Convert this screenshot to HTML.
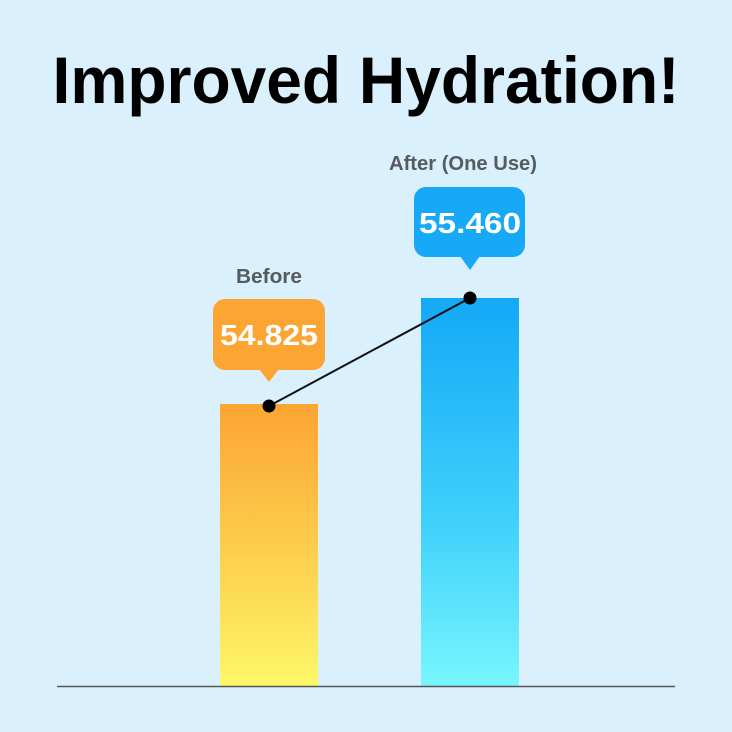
<!DOCTYPE html>
<html><head><meta charset="utf-8"><style>
html,body{margin:0;padding:0;background:#daf1fd;}
svg{display:block}
</style></head><body>
<svg width="732" height="732" viewBox="0 0 732 732" xmlns="http://www.w3.org/2000/svg">
<defs>
<linearGradient id="go" x1="0" y1="0" x2="0" y2="1">
<stop offset="0" stop-color="#fca532"/><stop offset="0.55" stop-color="#fdd04e"/><stop offset="1" stop-color="#fdf867"/>
</linearGradient>
<linearGradient id="gb" x1="0" y1="0" x2="0" y2="1">
<stop offset="0" stop-color="#14a8f7"/><stop offset="0.6" stop-color="#42d2fb"/><stop offset="1" stop-color="#78f6fd"/>
</linearGradient>
</defs>
<rect width="732" height="732" fill="#daf1fd"/>
<text x="366" y="103" text-anchor="middle" font-family="Liberation Sans, sans-serif" font-weight="bold" font-size="66" fill="#000" textLength="627" lengthAdjust="spacingAndGlyphs">Improved Hydration!</text>
<rect x="220" y="404" width="98" height="282" fill="url(#go)"/>
<rect x="421" y="298" width="98" height="388" fill="url(#gb)"/>
<line x1="57" y1="686.5" x2="675" y2="686.5" stroke="#555" stroke-width="1.5"/>
<text x="269" y="283" text-anchor="middle" font-family="Liberation Sans, sans-serif" font-weight="bold" font-size="20" fill="#555b60" textLength="66" lengthAdjust="spacingAndGlyphs">Before</text>
<text x="463" y="170" text-anchor="middle" font-family="Liberation Sans, sans-serif" font-weight="bold" font-size="20" fill="#555b60" textLength="148" lengthAdjust="spacingAndGlyphs">After (One Use)</text>
<rect x="213" y="299" width="112" height="71" rx="12" fill="#fca532"/>
<polygon points="259,369 279,369 269,382" fill="#fca532"/>
<text x="269" y="345" text-anchor="middle" font-family="Liberation Sans, sans-serif" font-weight="bold" font-size="29" fill="#fff" textLength="98" lengthAdjust="spacingAndGlyphs">54.825</text>
<rect x="414" y="187" width="111" height="70" rx="12" fill="#17a9f6"/>
<polygon points="460,256 480,256 470,270" fill="#17a9f6"/>
<text x="470" y="233" text-anchor="middle" font-family="Liberation Sans, sans-serif" font-weight="bold" font-size="29" fill="#fff" textLength="102" lengthAdjust="spacingAndGlyphs">55.460</text>
<line x1="269" y1="406" x2="470" y2="298" stroke="#111" stroke-width="2"/>
<circle cx="269" cy="406" r="6.5" fill="#000"/>
<circle cx="470" cy="298" r="6.5" fill="#000"/>
</svg>
</body></html>
